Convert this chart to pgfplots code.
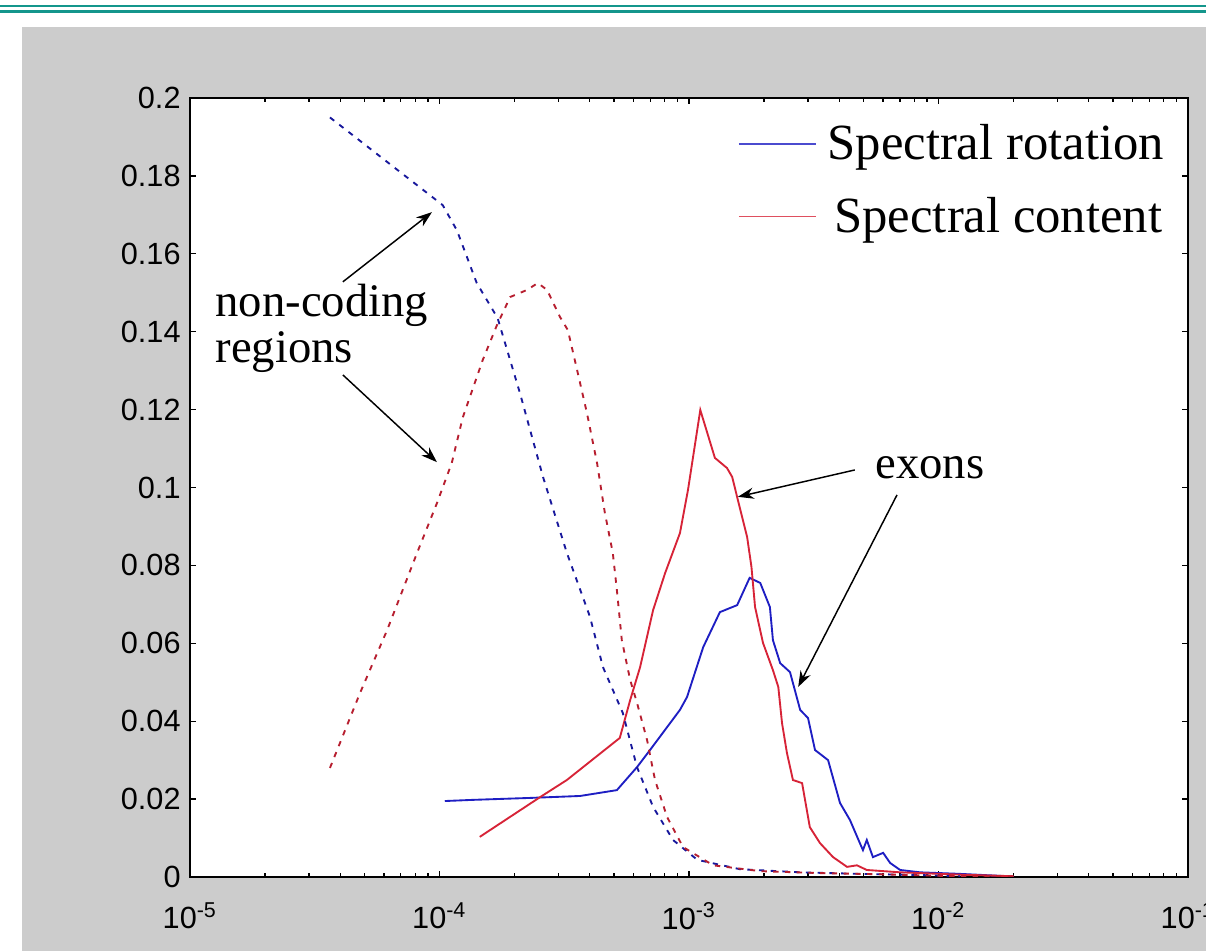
\documentclass[border=0pt]{standalone}
\usepackage{fontspec}
\setmainfont{Liberation Sans}
\newfontfamily\tnr{Liberation Serif}
\usepackage{pgfplots}
\pgfplotsset{compat=1.18}
\usetikzlibrary{arrows.meta}
\definecolor{mblue}{RGB}{30,30,195}
\definecolor{mred}{RGB}{215,35,55}
\definecolor{figgrey}{RGB}{204,204,204}
\definecolor{slideteal}{RGB}{20,150,140}

% non-coding regions, spectral rotation (dashed blue)
\pgfplotstableread{
x y
3.64e-5 0.195
1.03e-4 0.1725
1.175e-4 0.166
1.41e-4 0.1525
1.71e-4 0.1435
2.10e-4 0.1243
2.60e-4 0.1027
3.24e-4 0.0832
4.01e-4 0.0668
4.52e-4 0.0539
5.43e-4 0.0421
6.19e-4 0.0282
7.18e-4 0.018
8.63e-4 0.0095
1.08e-3 0.0044
1.6e-3 0.002
2.79e-3 0.0012
4.84e-3 0.0008
8.43e-3 0.0005
1.22e-2 0.0002
}\ncrot

% non-coding regions, spectral content (dashed red)
\pgfplotstableread{
x y
3.64e-5 0.028
4.80e-5 0.0472
6.17e-5 0.0634
8.13e-5 0.0832
9.77e-5 0.096
1.12e-4 0.1063
1.24e-4 0.118
1.49e-4 0.1327
1.70e-4 0.1417
1.92e-4 0.1489
2.24e-4 0.1507
2.48e-4 0.1525
2.70e-4 0.1507
3.04e-4 0.1438
3.27e-4 0.1404
3.56e-4 0.1302
3.90e-4 0.1191
4.28e-4 0.1063
4.60e-4 0.0935
4.95e-4 0.0832
5.14e-4 0.0737
5.38e-4 0.0608
5.81e-4 0.0506
6.19e-4 0.0447
6.79e-4 0.0352
7.31e-4 0.0249
8.17e-4 0.0154
9.46e-4 0.0077
1.25e-3 0.003
1.93e-3 0.0015
3.35e-3 0.001
5.83e-3 0.0007
1.01e-2 0.0003
2.0e-2 0.0001
}\nccont

% exons, spectral rotation (solid blue)
\pgfplotstableread{
x y
1.05e-4 0.0195
1.36e-4 0.0198
2.31e-4 0.0203
3.66e-4 0.0208
5.14e-4 0.0223
6.19e-4 0.0282
6.98e-4 0.0326
9.20e-4 0.0429
9.82e-4 0.0462
1.14e-3 0.059
1.33e-3 0.068
1.56e-3 0.0698
1.75e-3 0.0768
1.93e-3 0.0755
2.11e-3 0.0693
2.17e-3 0.0608
2.32e-3 0.0549
2.54e-3 0.0526
2.79e-3 0.0429
3.00e-3 0.0408
3.20e-3 0.0326
3.61e-3 0.030
4.03e-3 0.019
4.42e-3 0.0146
4.84e-3 0.0087
4.98e-3 0.0069
5.16e-3 0.0095
5.46e-3 0.0051
6.00e-3 0.0062
6.40e-3 0.0036
7.02e-3 0.0018
8.43e-3 0.0012
1.22e-2 0.0008
1.76e-2 0.0003
2.0e-2 0.0
}\exrot

% exons, spectral content (solid red)
\pgfplotstableread{
x y
1.45e-4 0.0103
2.53e-4 0.0205
3.24e-4 0.0249
5.28e-4 0.0357
5.81e-4 0.0454
6.37e-4 0.0539
7.18e-4 0.0685
8.02e-4 0.078
9.20e-4 0.0883
9.91e-4 0.0994
1.11e-3 0.1199
1.27e-3 0.1076
1.42e-3 0.105
1.49e-3 0.1027
1.57e-3 0.0968
1.71e-3 0.0873
1.78e-3 0.0796
1.84e-3 0.0693
1.98e-3 0.0601
2.17e-3 0.0531
2.28e-3 0.0488
2.36e-3 0.0395
2.47e-3 0.0318
2.61e-3 0.0249
2.84e-3 0.0241
3.05e-3 0.0128
3.35e-3 0.0087
3.78e-3 0.0051
4.30e-3 0.0026
4.71e-3 0.003
5.16e-3 0.0018
7.02e-3 0.0012
1.22e-2 0.0006
2.0e-2 0.0002
}\excont

\begin{document}
\begin{tikzpicture}
\path[use as bounding box] (-71.25pt,-27.75pt) rectangle (381pt,328.875pt);
\fill[figgrey] (-63pt,-27.75pt) rectangle (381pt,318.75pt);
\draw[slideteal, line width=0.8pt] (-71.25pt,326.7pt) -- (381pt,326.7pt);
\draw[slideteal, line width=0.9pt] (-71.25pt,324.6pt) -- (381pt,324.6pt);

\begin{axis}[
  at={(0pt,0pt)}, anchor=south west,
  scale only axis, width=374.25pt, height=292.125pt,
  xmode=log, xmin=1e-5, xmax=1e-1, ymin=0, ymax=0.2,
  axis background/.style={fill=white},
  axis line style={line width=0.6pt},
  tick align=inside,
  major tick length=2.2pt, minor tick length=1.5pt,
  tick style={black, line width=0.5pt},
  xtick={1e-5,1e-4,1e-3,1e-2,1e-1},
  xticklabels={10\textsuperscript{-5},10\textsuperscript{-4},10\textsuperscript{-3},10\textsuperscript{-2},10\textsuperscript{-1}},
  minor xtick={2e-5,3e-5,4e-5,5e-5,6e-5,7e-5,8e-5,9e-5,
    2e-4,3e-4,4e-4,5e-4,6e-4,7e-4,8e-4,9e-4,
    2e-3,3e-3,4e-3,5e-3,6e-3,7e-3,8e-3,9e-3,
    2e-2,3e-2,4e-2,5e-2,6e-2,7e-2,8e-2,9e-2},
  ytick={0,0.02,0.04,0.06,0.08,0.1,0.12,0.14,0.16,0.18,0.2},
  yticklabels={0,0.02,0.04,0.06,0.08,0.1,0.12,0.14,0.16,0.18,0.2},
  tick label style={font=\fontsize{11.5}{13}\selectfont},
  x tick label style={yshift=-6pt},
  legend style={at={(rel axis cs:0.541,0.977)}, anchor=north west,
    draw=none, fill=none, font=\tnr\fontsize{19}{21}\selectfont,
    row sep=10.5pt, nodes={inner sep=1pt}, /tikz/column sep=3pt},
  legend cell align=left,
  legend image code/.code={\draw[#1, line width=0.4pt, opacity=0.8] (0pt,0pt) -- (29pt,0pt);},
]
\addplot[mblue, line width=0.7pt] table {\exrot};
\addlegendentry{Spectral rotation}
\addplot[mred, line width=0.7pt] table {\excont};
\addlegendentry{\hspace{2.6pt}Spectral content}
\addplot[mblue!80!black, line width=0.7pt, dash pattern=on 2pt off 2.4pt, forget plot] table {\ncrot};
\addplot[mred!85!black, line width=0.7pt, dash pattern=on 2pt off 2.4pt, forget plot] table {\nccont};

\draw[-{Stealth[length=6pt,width=4.2pt]}, line width=0.55pt] (axis cs:4.10e-5,0.1528) -- (axis cs:9.33e-5,0.1707);
\draw[-{Stealth[length=6pt,width=4.2pt]}, line width=0.55pt] (axis cs:4.10e-5,0.1289) -- (axis cs:9.77e-5,0.1065);
\draw[-{Stealth[length=6pt,width=4.2pt]}, line width=0.55pt] (axis cs:4.62e-3,0.1045) -- (axis cs:1.57e-3,0.0976);
\draw[-{Stealth[length=6pt,width=4.2pt]}, line width=0.55pt] (axis cs:6.82e-3,0.0981) -- (axis cs:2.74e-3,0.0488);
\node[anchor=base west, inner sep=0pt, font=\tnr\fontsize{17.5}{17}\selectfont] at (axis cs:1.26e-5,0.1438) {non-coding};
\node[anchor=base west, inner sep=0pt, font=\tnr\fontsize{17.5}{17}\selectfont] at (axis cs:1.26e-5,0.1322) {regions};
\node[anchor=base west, inner sep=0pt, font=\tnr\fontsize{17.5}{17}\selectfont] at (axis cs:5.56e-3,0.1024) {exons};
\end{axis}
\end{tikzpicture}
\end{document}
